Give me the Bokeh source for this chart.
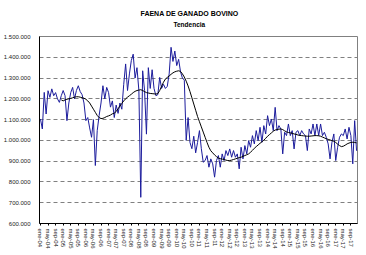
from bokeh.plotting import figure
from bokeh.models import Range1d, FixedTicker, Title, ColumnDataSource
from bokeh.embed import file_html
from bokeh.resources import INLINE

# ---------------- data ----------------
month_names = ["ene", "feb", "mar", "abr", "may", "jun", "jul", "ago", "sep", "oct", "nov", "dic"]
years = list(range(2004, 2018))
months = [f"{m}-{str(y)[2:]}" for y in years for m in month_names]

# monthly slaughter (head), in thousands
faena_k = [
    1103, 1055, 1231, 1127, 1239, 1207, 1248, 1215, 1230, 1200, 1183, 1215,   # 2004
    1240, 1215, 1095, 1180, 1230, 1255, 1200, 1240, 1263, 1235, 1220, 1180,   # 2005
    1095, 1110, 1060, 1015, 1100, 879, 1047, 1120, 1180, 1263, 1200, 1255,    # 2006
    1230, 1160, 1190, 1110, 1170, 1130, 1180, 1150, 1270, 1368, 1240, 1320,   # 2007
    1384, 1415, 1300, 1350, 1240, 726, 1335, 1240, 1030, 1350, 1250, 1340,    # 2008
    1250, 1215, 1220, 1303, 1250, 1270, 1250, 1260, 1320, 1448, 1380, 1430,   # 2009
    1360, 1390, 1330, 1300, 1290, 1000, 1110, 990, 960, 1020, 940, 990,       # 2010
    1047, 960, 895, 903, 927, 871, 911, 887, 823, 903, 927, 871,              # 2011
    935, 903, 951, 927, 959, 919, 951, 919, 935, 863, 967, 911,               # 2012
    975, 935, 999, 967, 1023, 983, 1047, 999, 1063, 991, 1071, 1031,          # 2013
    1119, 1071, 1103, 1047, 1159, 1047, 1071, 1055, 935, 1039, 1023, 1079,    # 2014
    1023, 1047, 959, 1039, 1047, 1023, 1047, 1031, 1023, 951, 1055, 1031,     # 2015
    1079, 1023, 1079, 1023, 1079, 1023, 1039, 1015, 983, 911, 991, 1031,      # 2016
    903, 967, 1015, 1031, 1023, 1055, 1007, 1063, 1023, 887, 1095, 950,       # 2017
]

# trend line, in thousands (starts in dic-04)
tendencia_k = [None] * 11 + [
    1195,                                                                      # 2004
    1190, 1195, 1198, 1200, 1202, 1205, 1208, 1210, 1210, 1208, 1205, 1203,   # 2005
    1198, 1190, 1180, 1165, 1150, 1135, 1120, 1110, 1105, 1106, 1110, 1115,   # 2006
    1118, 1122, 1128, 1130, 1140, 1152, 1165, 1178, 1190, 1200, 1208, 1215,   # 2007
    1222, 1230, 1236, 1240, 1242, 1244, 1240, 1235, 1230, 1228, 1226, 1225,   # 2008
    1224, 1223, 1225, 1240, 1260, 1280, 1295, 1303, 1310, 1318, 1325, 1330,   # 2009
    1333, 1335, 1332, 1320, 1305, 1285, 1262, 1235, 1205, 1175, 1145, 1115,   # 2010
    1090, 1065, 1040, 1015, 990, 967, 950, 940, 930, 922, 915, 912,           # 2011
    910, 908, 905, 903, 903, 905, 908, 911, 914, 917, 919, 923,               # 2012
    927, 931, 935, 943, 952, 962, 970, 978, 986, 993, 1001, 1010,             # 2013
    1020, 1028, 1036, 1044, 1050, 1052, 1054, 1055, 1052, 1046, 1041, 1038,   # 2014
    1036, 1034, 1031, 1029, 1026, 1024, 1023, 1022, 1021, 1020, 1020, 1021,   # 2015
    1022, 1023, 1023, 1022, 1020, 1016, 1012, 1008, 1005, 1002, 999, 996,     # 2016
    990, 982, 975, 970, 972, 977, 983, 987, 990, 991, 990, 988,               # 2017
]

y_ticks = [600000, 700000, 800000, 900000, 1000000, 1100000, 1200000, 1300000, 1400000, 1500000]
x_tick_step = 4  # one label every four months

title_text = "FAENA DE GANADO BOVINO"
subtitle_text = "Tendencia"

# ---------------- build ----------------
idx = list(range(len(months)))
faena = [v * 1000 for v in faena_k]
tendencia = [float("nan") if v is None else v * 1000 for v in tendencia_k]
src = ColumnDataSource(dict(x=idx, faena=faena, tendencia=tendencia, mes=months))

FONT = "Liberation Sans"

p = figure(width=366, height=255, output_backend="svg", toolbar_location=None,
           x_range=Range1d(-0.5, len(months) - 0.5),
           y_range=Range1d(y_ticks[0], y_ticks[-1]),
           min_border_left=35, min_border_right=9, min_border_top=36, min_border_bottom=32,
           background_fill_color="white", border_fill_color="white")

p.line("x", "faena", source=src, line_color="#1C1C9C", line_width=1)
p.line("x", "tendencia", source=src, line_color="black", line_width=1)

# titles
p.add_layout(Title(text=subtitle_text, align="left", offset=134, text_font=FONT,
                   text_font_size="6.5px", text_font_style="bold", text_color="black",
                   standoff=18), "above")
p.add_layout(Title(text=title_text, align="left", offset=101, text_font=FONT,
                   text_font_size="7px", text_font_style="bold", text_color="black",
                   standoff=-15), "above")

# frame
p.outline_line_color = "#808080"
p.outline_line_width = 1

# grid
p.xgrid.visible = False
p.ygrid.ticker = FixedTicker(ticks=y_ticks[1:-1])
p.ygrid.grid_line_color = "#808080"
p.ygrid.grid_line_dash = "4 3"
p.ygrid.grid_line_width = 1

# y axis
p.yaxis.ticker = FixedTicker(ticks=y_ticks)
p.yaxis.major_label_overrides = {t: f"{t:,}".replace(",", ".") for t in y_ticks}
p.yaxis.axis_line_color = "black"
p.yaxis.major_tick_line_color = None
p.yaxis.minor_tick_line_color = None
p.yaxis.major_label_standoff = 3
p.yaxis.major_label_text_font = FONT
p.yaxis.major_label_text_font_size = "6px"
p.yaxis.major_label_text_color = "#222222"

# x axis
x_ticks = idx[::x_tick_step]
p.xaxis.ticker = FixedTicker(ticks=x_ticks)
p.xaxis.major_label_overrides = {i: months[i] for i in x_ticks}
p.xaxis.major_label_orientation = "vertical"
p.xaxis.axis_line_color = "black"
p.xaxis.major_tick_line_color = "black"
p.xaxis.major_tick_out = 2
p.xaxis.major_tick_in = 0
p.xaxis.minor_tick_line_color = None
p.xaxis.major_label_standoff = 3
p.xaxis.major_label_text_font = FONT
p.xaxis.major_label_text_font_size = "6px"
p.xaxis.major_label_text_color = "#222222"

open("out.html", "w").write(file_html(p, INLINE))
